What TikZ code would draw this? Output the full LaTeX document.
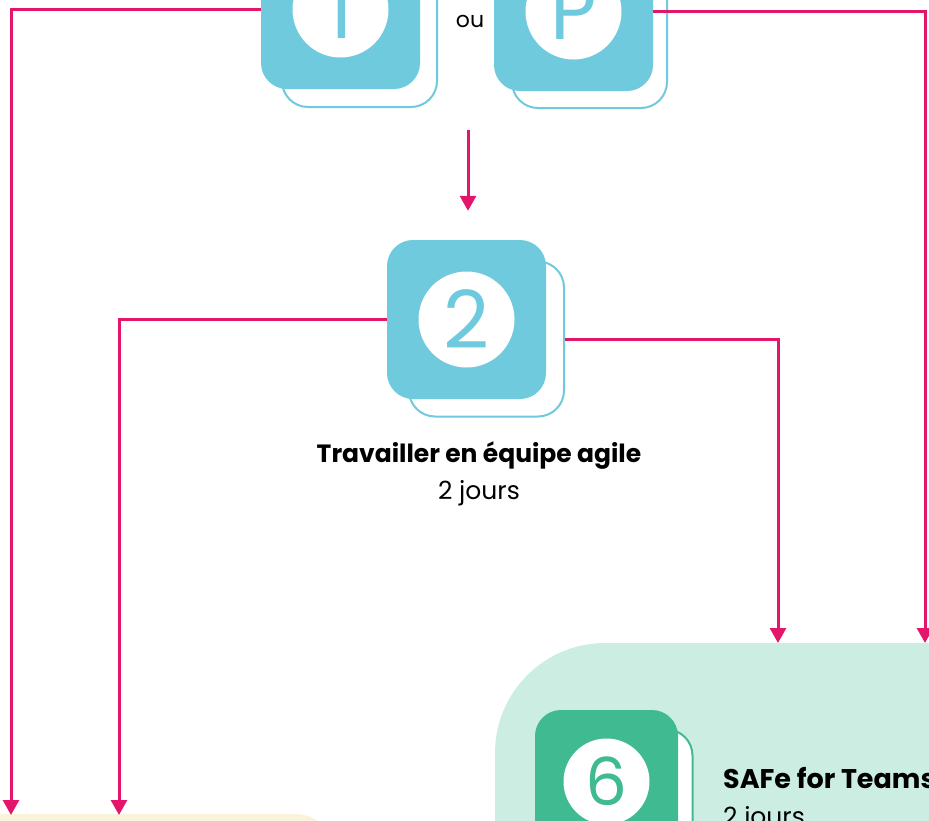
\documentclass[tikz,border=0pt]{standalone}
\usepackage{fontspec}
\setmainfont{Poppins}
\usetikzlibrary{arrows.meta,positioning}
\definecolor{stepblue}{HTML}{6FCADD}
\definecolor{teamgreen}{HTML}{40BA91}
\definecolor{teambg}{HTML}{CCEDE1}
\definecolor{coreyellow}{HTML}{FAF3DC}
\definecolor{linkred}{HTML}{E3166B}
\tikzset{
  frontbox/.style={fill=#1, rounded corners=26pt, minimum size=159pt, inner sep=0pt},
  backbox/.style={draw=#1, line width=2pt, fill=white, rounded corners=26pt, minimum size=155pt, inner sep=0pt},
  numdisk/.style={circle, fill=white, minimum size=96pt, inner sep=0pt, text=#1, font=\fontsize{80}{80}\selectfont},
  link/.style={draw=linkred, line width=3pt, -{Triangle[width=16pt,length=15pt]}},
  title/.style={font=\bfseries\fontsize{25}{28}\selectfont, inner sep=0pt},
  days/.style={font=\fontsize{25}{28}\selectfont, inner sep=0pt},
}

\begin{document}
\begin{tikzpicture}[x=1pt,y=-1pt]
        \useasboundingbox (0,0) rectangle (929,820);
        \clip (0,0) rectangle (929,820);
        % background areas
        \fill[teambg, rounded corners=110pt] (495,643) rectangle (1100,1100);
        \fill[coreyellow, rounded corners=40pt] (-100,814) rectangle (335,1000);
        % step 1 or P
        \node[backbox=stepblue] (b1back) at (359.5,29.5) {};
        \node[frontbox=stepblue] (b1) at (340.5,9.5) {};
        \node[numdisk=stepblue] (d1) at (b1) {1};
        \node[backbox=stepblue] (bPback) at (589.5,30.5) {};
        \node[frontbox=stepblue] (bP) at (573.5,11.5) {};
        \node[numdisk=stepblue] (dP) at (bP) {P};
        \node[font=\fontsize{22}{26}\selectfont] (ou) at (470,21) {ou};
        % step 2
        \node[backbox=stepblue] (b2back) at (486.5,339) {};
        \node[frontbox=stepblue] (b2) at (466.5,319.5) {};
        \node[numdisk=stepblue] (d2) at (b2) {2};
        \node[title] (t2) at (479,456) {Travailler en équipe agile};
        \node[days, below=10pt of t2] (j2) {2 jours};
        % step 6
        \node[backbox=teamgreen, minimum size=141pt] (b6back) at (622,800) {};
        \node[frontbox=teamgreen, minimum size=143pt] (b6) at (606.5,781.5) {};
        \node[numdisk=teamgreen, minimum size=86pt, font=\fontsize{66}{66}\selectfont] (d6) at (b6) {6};
        \node[title, font=\bfseries\fontsize{27}{30}\selectfont, anchor=base west] (t6) at (723,788) {SAFe for Teams};
        \node[days, anchor=base west] (j6) at (723,825) {2 jours};
        % connectors
        \coordinate (tgtA) at (11,815);
        \coordinate (tgtB) at (119,815);
        \coordinate (tgtC) at (778,643);
        \coordinate (tgtD) at (925,643);
        \coordinate (split) at (468,130);
        \draw[link] (b1.west) -| (tgtA);
        \draw[link] (bP.east) -| (tgtD);
        \draw[link] (split) -- ([yshift=29pt]b2.north -| split);
        \draw[link] (b2.west) -| (tgtB);
        \draw[link] (b2back.east) -| (tgtC);
\end{tikzpicture}
\end{document}
